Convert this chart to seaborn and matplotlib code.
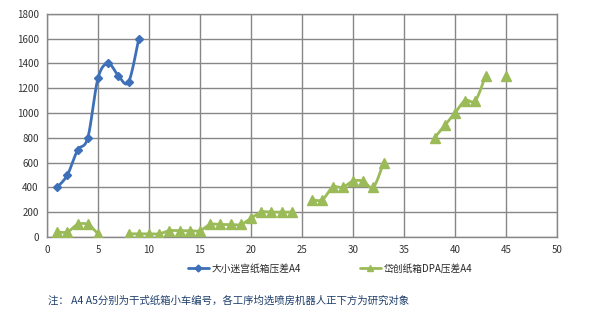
import numpy as np
import pandas as pd
import matplotlib
matplotlib.use("Agg")
import matplotlib.pyplot as plt
import seaborn as sns
from matplotlib.lines import Line2D

# ---- data ----
x_blue = [1, 2, 3, 4, 5, 6, 7, 8, 9]
y_blue = [400, 500, 700, 800, 1280, 1400, 1300, 1250, 1600]

x_green = list(range(1, 46))
y_green = [40, 40, 100, 100, 25, None, None, 25, 25, 25, 25, 50, 50, 50, 50,
           100, 100, 100, 100, 150, 200, 200, 200, 200, None, 300, 300, 400, 400,
           450, 450, 400, 600, None, None, None, None, 800, 900, 1000, 1100, 1100,
           1300, None, 1300]

label_blue = "大小迷宫纸箱压差A4"
label_green = "岱创纸箱DPA压差A4"
note = "注： A4 A5分别为干式纸箱小车编号，各工序均选喷房机器人正下方为研究对象"
x_ticks = [0, 5, 10, 15, 20, 25, 30, 35, 40, 45, 50]
y_ticks = [0, 200, 400, 600, 800, 1000, 1200, 1400, 1600, 1800]

BLUE = "#3D70B8"
GREEN = "#9BBB59"

sns.set_style("white")
plt.rcParams['font.family'] = ['Noto Sans CJK SC', 'DejaVu Sans']


def segments(xs, ys):
    seg, out = [], []
    for xv, yv in zip(xs, ys):
        if yv is None:
            if seg:
                out.append(seg)
            seg = []
        else:
            seg.append((xv, yv))
    if seg:
        out.append(seg)
    return out


def smooth(seg, n=20):
    # Catmull-Rom style smoothing (like Excel's smoothed line) for display
    pts = np.array(seg, dtype=float)
    if len(pts) < 3:
        return pts[:, 0], pts[:, 1]
    P = np.vstack([pts[0], pts, pts[-1]])
    xs, ys = [], []
    for i in range(1, len(P) - 2):
        p0, p1, p2, p3 = P[i - 1], P[i], P[i + 1], P[i + 2]
        c1 = p1 + (p2 - p0) / 6.0
        c2 = p2 - (p3 - p1) / 6.0
        t = np.linspace(0, 1, n)[:, None]
        b = ((1 - t) ** 3) * p1 + 3 * ((1 - t) ** 2) * t * c1 + 3 * (1 - t) * t ** 2 * c2 + t ** 3 * p2
        xs.extend(b[:, 0]); ys.extend(b[:, 1])
    return np.array(xs), np.array(ys)


fig = plt.figure(figsize=(5.95, 3.15), dpi=100)
ax = fig.add_axes([0.079, 0.248, 0.857, 0.708])

for xs, ys, col, mk, ms in [(x_blue, y_blue, BLUE, "D", 4.5), (x_green, y_green, GREEN, "^", 6.5)]:
    for seg in segments(xs, ys):
        sx, sy = smooth(seg)
        df = pd.DataFrame({"x": sx, "y": sy})
        if len(seg) > 1:
            sns.lineplot(data=df, x="x", y="y", ax=ax, color=col, linewidth=2,
                         sort=False, estimator=None)
        pts = pd.DataFrame(seg, columns=["x", "y"])
        ax.plot(pts["x"], pts["y"], linestyle="none", marker=mk, markersize=ms,
                color=col, markeredgecolor=col, zorder=4)

ax.set_xlim(0, 50)
ax.set_ylim(0, 1800)
ax.set_xticks(x_ticks)
ax.set_yticks(y_ticks)
ax.set_xlabel("")
ax.set_ylabel("")
ax.grid(True, color="#878787", linewidth=1)
ax.set_axisbelow(True)
for s in ax.spines.values():
    s.set_color("#878787")
    s.set_linewidth(1)
ax.tick_params(axis="both", labelsize=7, colors="#333333", length=0, pad=6)

handles = [
    Line2D([0], [0], color=BLUE, lw=2, marker="D", markersize=3.5),
    Line2D([0], [0], color=GREEN, lw=2, marker="^", markersize=4.5),
]
fig.legend(handles, [label_blue, label_green], loc="center", bbox_to_anchor=(0.555, 0.148),
           ncol=2, frameon=False, fontsize=7, handlelength=2.2, columnspacing=6,
           handletextpad=0.3)

fig.text(0.081, 0.045, note, fontsize=7.5, color="#1F3F6B", ha="left", va="center")

fig.savefig("out.png", dpi=100)
